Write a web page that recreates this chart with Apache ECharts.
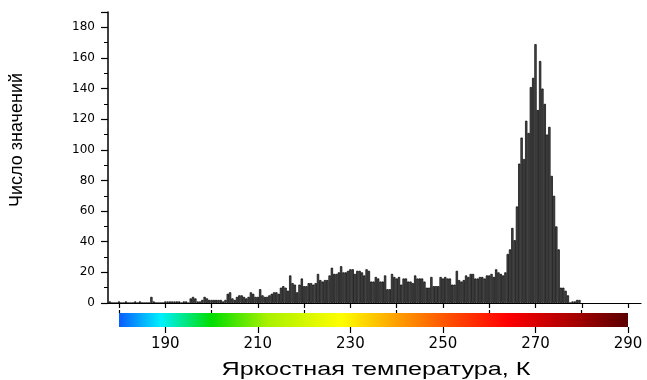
<!DOCTYPE html>
<html>
<head>
<meta charset="utf-8">
<script src="https://cdn.jsdelivr.net/npm/echarts@6/dist/echarts.min.js"></script>
<style>
  html, body { margin: 0; padding: 0; background: #fff; }
  #chart { width: 647px; height: 380px; }
</style>
</head>
<body>
<div id="chart"></div>
<script>
// histogram bins: 0.5 K wide, first bin centred at 178 K
const binStart = 178;
const binStep = 0.5;
const counts = [
  1, 0, 0, 0, 1, 0, 0, 1, 0, 0, 0, 1, 0, 1, 0, 0, 0, 0, 4, 1, 0, 0, 0, 0,
  1, 1, 1, 1, 1, 1, 1, 0, 1, 1, 0, 3, 4, 3, 1, 1, 2, 4, 3, 2,
  2, 2, 2, 2, 2, 1, 2, 6, 7, 3, 2, 4, 5, 5, 4, 3, 4, 7, 6, 4,
  4, 9, 5, 4, 4, 5, 6, 7, 7, 6, 10, 11, 10, 8, 18, 13, 12, 7, 12, 16,
  11, 11, 13, 13, 12, 13, 19, 15, 14, 15, 15, 18, 23, 19, 19, 20, 24, 20, 20, 21,
  22, 22, 19, 21, 21, 20, 18, 22, 21, 14, 14, 17, 16, 14, 14, 18, 9, 9, 19, 17,
  16, 17, 12, 16, 16, 14, 14, 13, 18, 16, 16, 16, 14, 10, 10, 17, 11, 11, 11, 17,
  16, 17, 16, 16, 12, 12, 21, 15, 14, 15, 18, 17, 19, 19, 16, 16, 17, 17, 16, 18,
  18, 19, 17, 22, 20, 19, 18, 20, 32, 35, 49, 41, 63, 91, 108, 94, 119, 111, 141, 147,
  169, 126, 158, 140, 130, 110, 115, 83, 70, 50, 35, 10, 10, 8, 5, 0, 1, 1, 2, 2
];

const tempTicks = [180, 190, 200, 210, 220, 230, 240, 250, 260, 270, 280, 290];
const tempLabels = [190, 210, 230, 250, 270, 290];
const tempMinor = [180, 200, 220, 240, 260, 280];

// colour scale under the axis: [temperature, colour]
const scaleStops = [
  [180, "#0a5cff"],
  [189, "#00f0ff"],
  [200, "#00dd00"],
  [212, "#a8f000"],
  [228, "#ffff00"],
  [240, "#ffa000"],
  [252, "#ff4a00"],
  [264, "#ff0000"],
  [277, "#b00000"],
  [290, "#5a0000"]
];

const xLabel = "Яркостная температура, К";
const yLabel = "Число значений";

const chart = echarts.init(document.getElementById("chart"), null, { renderer: "canvas" });

const data = counts.map((v, i) => [binStart + i * binStep, v]);
const tMin = 180, tMax = 290;

const option = {
  animation: false,
  backgroundColor: "#fff",
  grid: [
    { left: 108, right: 6, top: 12, bottom: 77 },
    { left: 119, right: 19, top: 313, height: 14 }
  ],
  xAxis: [
    {
      gridIndex: 0,
      type: "value",
      min: 177.62,
      max: 292.8,
      axisLine: { lineStyle: { color: "#000", width: 1.2 } },
      axisTick: { customValues: tempTicks, length: 5, lineStyle: { color: "#000", width: 1.2 } },
      axisLabel: { show: false },
      splitLine: { show: false }
    },
    {
      gridIndex: 1,
      type: "value",
      min: tMin,
      max: tMax,
      interval: 10,
      axisLine: { show: false },
      axisTick: { customValues: tempLabels, length: 6, lineStyle: { color: "#000", width: 1.2 } },
      axisLabel: {
        customValues: tempLabels,
        margin: 10,
        color: "#000",
        fontSize: 15,
        fontFamily: "DejaVu Sans",
        formatter: (v) => ((v - 190) % 20 === 0 ? String(v) : "")
      },
      splitLine: { show: false }
    },
    {
      gridIndex: 1,
      type: "value",
      min: tMin,
      max: tMax,
      interval: 10,
      axisLine: { show: false },
      axisTick: { customValues: tempMinor, length: 3, lineStyle: { color: "#000", width: 1.2 } },
      axisLabel: { show: false },
      splitLine: { show: false }
    }
  ],
  yAxis: [
    {
      gridIndex: 0,
      type: "value",
      min: 0,
      max: 190,
      interval: 20,
      axisLine: { show: true, lineStyle: { color: "#000", width: 1.5 } },
      axisTick: { show: true, length: 7, lineStyle: { color: "#000", width: 1.2 } },
      minorTick: { show: true, splitNumber: 2, length: 4, lineStyle: { color: "#000", width: 1 } },
      axisLabel: {
        showMaxLabel: false,
        margin: 13,
        color: "#000",
        fontSize: 12,
        fontFamily: "DejaVu Sans"
      },
      splitLine: { show: false }
    },
    {
      gridIndex: 1,
      type: "value",
      min: 0,
      max: 1,
      show: false
    }
  ],
  series: [
    {
      type: "bar",
      xAxisIndex: 0,
      yAxisIndex: 0,
      data: data,
      barWidth: 2.3,
      itemStyle: { color: "#4f4f4f", borderColor: "#000", borderWidth: 0.7 }
    },
    {
      type: "line",
      xAxisIndex: 1,
      yAxisIndex: 1,
      data: [[tMin, 1], [tMax, 1]],
      symbol: "none",
      lineStyle: { width: 0 },
      areaStyle: {
        opacity: 1,
        color: new echarts.graphic.LinearGradient(0, 0, 1, 0,
          scaleStops.map(([t, c]) => ({ offset: (t - tMin) / (tMax - tMin), color: c })))
      }
    }
  ],
  graphic: [
    {
      type: "text",
      x: 376,
      y: 370,
      scaleX: 1.4,
      style: {
        text: xLabel,
        fill: "#000",
        font: "18px 'Liberation Sans'",
        textAlign: "center",
        textVerticalAlign: "middle"
      }
    },
    {
      type: "text",
      x: 17,
      y: 140,
      rotation: Math.PI / 2,
      style: {
        text: yLabel,
        fill: "#000",
        font: "18px 'Liberation Sans'",
        textAlign: "center",
        textVerticalAlign: "middle"
      }
    }
  ]
};

chart.setOption(option);
</script>
</body>
</html>
